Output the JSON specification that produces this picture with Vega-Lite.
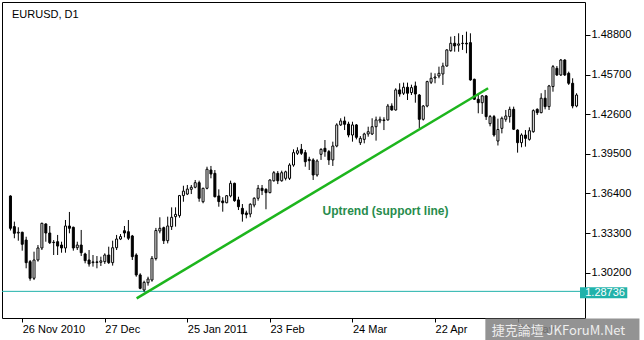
{
 "$schema": "https://vega.github.io/schema/vega-lite/v6.json",
 "width": 583,
 "height": 316,
 "autosize": {"type": "none"},
 "padding": {"left": 2, "top": 2, "right": 59, "bottom": 22},
 "background": "white",
 "config": {"view": {"stroke": "black", "strokeWidth": 1}, "font": "Liberation Sans"},
 "datasets": {"one": [{}]},
 "data": {"values": [
  {"i":0,"o":1.3620,"h":1.3625,"l":1.3350,"c":1.3367},
  {"i":1,"o":1.3380,"h":1.3419,"l":1.3289,"c":1.3328},
  {"i":2,"o":1.3330,"h":1.3375,"l":1.3270,"c":1.3336},
  {"i":3,"o":1.3336,"h":1.3340,"l":1.3192,"c":1.3242},
  {"i":4,"o":1.3275,"h":1.3301,"l":1.3054,"c":1.3098},
  {"i":5,"o":1.3106,"h":1.3119,"l":1.2957,"c":1.2976},
  {"i":6,"o":1.2976,"h":1.3184,"l":1.2962,"c":1.3119},
  {"i":7,"o":1.3119,"h":1.3236,"l":1.3106,"c":1.3213},
  {"i":8,"o":1.3213,"h":1.3411,"l":1.3197,"c":1.3406},
  {"i":9,"o":1.3401,"h":1.3406,"l":1.3262,"c":1.3330},
  {"i":10,"o":1.3330,"h":1.3385,"l":1.3244,"c":1.3254},
  {"i":11,"o":1.3258,"h":1.3275,"l":1.3158,"c":1.3255},
  {"i":12,"o":1.3262,"h":1.3315,"l":1.3158,"c":1.3228},
  {"i":13,"o":1.3236,"h":1.3262,"l":1.3176,"c":1.3213},
  {"i":14,"o":1.3213,"h":1.3432,"l":1.3176,"c":1.3385},
  {"i":15,"o":1.3385,"h":1.3495,"l":1.3328,"c":1.3367},
  {"i":16,"o":1.3375,"h":1.3380,"l":1.3192,"c":1.3213},
  {"i":17,"o":1.3215,"h":1.3262,"l":1.3197,"c":1.3236},
  {"i":18,"o":1.3236,"h":1.3354,"l":1.3150,"c":1.3176},
  {"i":19,"o":1.3166,"h":1.3176,"l":1.3093,"c":1.3114},
  {"i":20,"o":1.3119,"h":1.3197,"l":1.3067,"c":1.3088},
  {"i":21,"o":1.3098,"h":1.3158,"l":1.3067,"c":1.3104},
  {"i":22,"o":1.3104,"h":1.3150,"l":1.3054,"c":1.3100},
  {"i":23,"o":1.3101,"h":1.3145,"l":1.3072,"c":1.3112},
  {"i":24,"o":1.3106,"h":1.3171,"l":1.3088,"c":1.3158},
  {"i":25,"o":1.3158,"h":1.3223,"l":1.3088,"c":1.3098},
  {"i":26,"o":1.3098,"h":1.3270,"l":1.3075,"c":1.3215},
  {"i":27,"o":1.3215,"h":1.3315,"l":1.3197,"c":1.3283},
  {"i":28,"o":1.3283,"h":1.3322,"l":1.3275,"c":1.3302},
  {"i":29,"o":1.3348,"h":1.3385,"l":1.3296,"c":1.3330},
  {"i":30,"o":1.3340,"h":1.3432,"l":1.3275,"c":1.3289},
  {"i":31,"o":1.3307,"h":1.3315,"l":1.3119,"c":1.3145},
  {"i":32,"o":1.3158,"h":1.3171,"l":1.2988,"c":1.3002},
  {"i":33,"o":1.3002,"h":1.3015,"l":1.2890,"c":1.2897},
  {"i":34,"o":1.2884,"h":1.2957,"l":1.2871,"c":1.2944},
  {"i":35,"o":1.2941,"h":1.2988,"l":1.2918,"c":1.2970},
  {"i":36,"o":1.2962,"h":1.3150,"l":1.2949,"c":1.3132},
  {"i":37,"o":1.3130,"h":1.3370,"l":1.3115,"c":1.3350},
  {"i":38,"o":1.3346,"h":1.3453,"l":1.3328,"c":1.3367},
  {"i":39,"o":1.3372,"h":1.3380,"l":1.3244,"c":1.3270},
  {"i":40,"o":1.3270,"h":1.3458,"l":1.3249,"c":1.3385},
  {"i":41,"o":1.3380,"h":1.3531,"l":1.3354,"c":1.3453},
  {"i":42,"o":1.3458,"h":1.3531,"l":1.3380,"c":1.3476},
  {"i":43,"o":1.3466,"h":1.3628,"l":1.3450,"c":1.3623},
  {"i":44,"o":1.3623,"h":1.3700,"l":1.3575,"c":1.3658},
  {"i":45,"o":1.3635,"h":1.3706,"l":1.3627,"c":1.3674},
  {"i":46,"o":1.3672,"h":1.3706,"l":1.3635,"c":1.3688},
  {"i":47,"o":1.3688,"h":1.3745,"l":1.3680,"c":1.3724},
  {"i":48,"o":1.3724,"h":1.3740,"l":1.3575,"c":1.3602},
  {"i":49,"o":1.3575,"h":1.3685,"l":1.3563,"c":1.3680},
  {"i":50,"o":1.3680,"h":1.3849,"l":1.3672,"c":1.3829},
  {"i":51,"o":1.3823,"h":1.3855,"l":1.3758,"c":1.3792},
  {"i":52,"o":1.3797,"h":1.3823,"l":1.3609,"c":1.3614},
  {"i":53,"o":1.3620,"h":1.3672,"l":1.3536,"c":1.3576},
  {"i":54,"o":1.3581,"h":1.3610,"l":1.3497,"c":1.3567},
  {"i":55,"o":1.3567,"h":1.3627,"l":1.3563,"c":1.3622},
  {"i":56,"o":1.3620,"h":1.3740,"l":1.3609,"c":1.3719},
  {"i":57,"o":1.3719,"h":1.3724,"l":1.3575,"c":1.3583},
  {"i":58,"o":1.3589,"h":1.3614,"l":1.3510,"c":1.3536},
  {"i":59,"o":1.3523,"h":1.3557,"l":1.3419,"c":1.3479},
  {"i":60,"o":1.3487,"h":1.3505,"l":1.3445,"c":1.3474},
  {"i":61,"o":1.3479,"h":1.3563,"l":1.3453,"c":1.3555},
  {"i":62,"o":1.3549,"h":1.3610,"l":1.3531,"c":1.3602},
  {"i":63,"o":1.3602,"h":1.3706,"l":1.3583,"c":1.3680},
  {"i":64,"o":1.3680,"h":1.3706,"l":1.3627,"c":1.3662},
  {"i":65,"o":1.3672,"h":1.3680,"l":1.3516,"c":1.3646},
  {"i":66,"o":1.3646,"h":1.3750,"l":1.3641,"c":1.3745},
  {"i":67,"o":1.3739,"h":1.3815,"l":1.3732,"c":1.3802},
  {"i":68,"o":1.3797,"h":1.3815,"l":1.3713,"c":1.3739},
  {"i":69,"o":1.3739,"h":1.3818,"l":1.3732,"c":1.3802},
  {"i":70,"o":1.3758,"h":1.3818,"l":1.3742,"c":1.3809},
  {"i":71,"o":1.3758,"h":1.3876,"l":1.3745,"c":1.3862},
  {"i":72,"o":1.3862,"h":1.3985,"l":1.3849,"c":1.3959},
  {"i":73,"o":1.3954,"h":1.4001,"l":1.3941,"c":1.3974},
  {"i":74,"o":1.3985,"h":1.4027,"l":1.3941,"c":1.3954},
  {"i":75,"o":1.3959,"h":1.3980,"l":1.3849,"c":1.3888},
  {"i":76,"o":1.3907,"h":1.3927,"l":1.3823,"c":1.3896},
  {"i":77,"o":1.3902,"h":1.3915,"l":1.3745,"c":1.3784},
  {"i":78,"o":1.3784,"h":1.3907,"l":1.3771,"c":1.3894},
  {"i":79,"o":1.3946,"h":1.3993,"l":1.3902,"c":1.3985},
  {"i":80,"o":1.3993,"h":1.4058,"l":1.3927,"c":1.3967},
  {"i":81,"o":1.3967,"h":1.3980,"l":1.3863,"c":1.3902},
  {"i":82,"o":1.3902,"h":1.4045,"l":1.3855,"c":1.4011},
  {"i":83,"o":1.4011,"h":1.4189,"l":1.4001,"c":1.4176},
  {"i":84,"o":1.4176,"h":1.4228,"l":1.4168,"c":1.4207},
  {"i":85,"o":1.4207,"h":1.4241,"l":1.4136,"c":1.4181},
  {"i":86,"o":1.4183,"h":1.4201,"l":1.4079,"c":1.4097},
  {"i":87,"o":1.4097,"h":1.4201,"l":1.4045,"c":1.4176},
  {"i":88,"o":1.4176,"h":1.4183,"l":1.4063,"c":1.4079},
  {"i":89,"o":1.4037,"h":1.4089,"l":1.4019,"c":1.4071},
  {"i":90,"o":1.4063,"h":1.4115,"l":1.4032,"c":1.4105},
  {"i":91,"o":1.4105,"h":1.4162,"l":1.4084,"c":1.4123},
  {"i":92,"o":1.4105,"h":1.4228,"l":1.4097,"c":1.4162},
  {"i":93,"o":1.4162,"h":1.4241,"l":1.4053,"c":1.4215},
  {"i":94,"o":1.4207,"h":1.4241,"l":1.4189,"c":1.4220},
  {"i":95,"o":1.4215,"h":1.4236,"l":1.4136,"c":1.4210},
  {"i":96,"o":1.4215,"h":1.4340,"l":1.4210,"c":1.4324},
  {"i":97,"o":1.4324,"h":1.4345,"l":1.4288,"c":1.4293},
  {"i":98,"o":1.4293,"h":1.4463,"l":1.4288,"c":1.4450},
  {"i":99,"o":1.4450,"h":1.4502,"l":1.4397,"c":1.4418},
  {"i":100,"o":1.4424,"h":1.4507,"l":1.4410,"c":1.4471},
  {"i":101,"o":1.4471,"h":1.4507,"l":1.4371,"c":1.4424},
  {"i":102,"o":1.4429,"h":1.4491,"l":1.4410,"c":1.4468},
  {"i":103,"o":1.4481,"h":1.4515,"l":1.4350,"c":1.4418},
  {"i":104,"o":1.4410,"h":1.4418,"l":1.4150,"c":1.4220},
  {"i":105,"o":1.4220,"h":1.4332,"l":1.4210,"c":1.4324},
  {"i":106,"o":1.4324,"h":1.4522,"l":1.4314,"c":1.4515},
  {"i":107,"o":1.4510,"h":1.4585,"l":1.4496,"c":1.4541},
  {"i":108,"o":1.4543,"h":1.4580,"l":1.4502,"c":1.4551},
  {"i":109,"o":1.4559,"h":1.4632,"l":1.4541,"c":1.4580},
  {"i":110,"o":1.4575,"h":1.4663,"l":1.4489,"c":1.4637},
  {"i":111,"o":1.4637,"h":1.4768,"l":1.4632,"c":1.4763},
  {"i":112,"o":1.4757,"h":1.4867,"l":1.4749,"c":1.4815},
  {"i":113,"o":1.4815,"h":1.4872,"l":1.4749,"c":1.4794},
  {"i":114,"o":1.4800,"h":1.4893,"l":1.4749,"c":1.4810},
  {"i":115,"o":1.4813,"h":1.4880,"l":1.4763,"c":1.4815},
  {"i":116,"o":1.4815,"h":1.4906,"l":1.4737,"c":1.4810},
  {"i":117,"o":1.4820,"h":1.4893,"l":1.4522,"c":1.4528},
  {"i":118,"o":1.4533,"h":1.4538,"l":1.4371,"c":1.4377},
  {"i":119,"o":1.4377,"h":1.4418,"l":1.4267,"c":1.4350},
  {"i":120,"o":1.4350,"h":1.4410,"l":1.4262,"c":1.4403},
  {"i":121,"o":1.4403,"h":1.4410,"l":1.4215,"c":1.4241},
  {"i":122,"o":1.4186,"h":1.4254,"l":1.4165,"c":1.4241},
  {"i":123,"o":1.4241,"h":1.4254,"l":1.4084,"c":1.4097},
  {"i":124,"o":1.4050,"h":1.4225,"l":1.4015,"c":1.4140},
  {"i":125,"o":1.4149,"h":1.4241,"l":1.4110,"c":1.4228},
  {"i":126,"o":1.4220,"h":1.4293,"l":1.4201,"c":1.4246},
  {"i":127,"o":1.4241,"h":1.4319,"l":1.4194,"c":1.4298},
  {"i":128,"o":1.4298,"h":1.4319,"l":1.4136,"c":1.4142},
  {"i":129,"o":1.4136,"h":1.4142,"l":1.3959,"c":1.4037},
  {"i":130,"o":1.4037,"h":1.4110,"l":1.4001,"c":1.4097},
  {"i":131,"o":1.4097,"h":1.4136,"l":1.4006,"c":1.4071},
  {"i":132,"o":1.4063,"h":1.4157,"l":1.4053,"c":1.4131},
  {"i":133,"o":1.4123,"h":1.4298,"l":1.4115,"c":1.4288},
  {"i":134,"o":1.4298,"h":1.4306,"l":1.4254,"c":1.4272},
  {"i":135,"o":1.4272,"h":1.4424,"l":1.4267,"c":1.4385},
  {"i":136,"o":1.4385,"h":1.4450,"l":1.4298,"c":1.4319},
  {"i":137,"o":1.4319,"h":1.4489,"l":1.4293,"c":1.4481},
  {"i":138,"o":1.4476,"h":1.4645,"l":1.4436,"c":1.4632},
  {"i":139,"o":1.4619,"h":1.4637,"l":1.4559,"c":1.4567},
  {"i":140,"o":1.4567,"h":1.4692,"l":1.4559,"c":1.4684},
  {"i":141,"o":1.4684,"h":1.4690,"l":1.4559,"c":1.4567},
  {"i":142,"o":1.4580,"h":1.4593,"l":1.4489,"c":1.4502},
  {"i":143,"o":1.4502,"h":1.4541,"l":1.4306,"c":1.4324},
  {"i":144,"o":1.4324,"h":1.4424,"l":1.4314,"c":1.4410}
 ]},
 "layer": [
  {
   "data": {"name": "one"},
   "mark": {"type": "rule", "color": "#20b2aa", "strokeWidth": 1},
   "encoding": {"y": {"datum": 1.28736, "type": "quantitative"}}
  },
  {
   "mark": {"type": "rule", "color": "black", "strokeWidth": 1},
   "encoding": {
    "x": {"field": "i", "type": "quantitative",
     "scale": {"domain": [-0.875, 144.875], "nice": false, "zero": false},
     "axis": {"title": null, "values": [3, 24, 45, 66, 87, 108, 129],
      "labelExpr": "['26 Nov 2010','27 Dec','25 Jan 2011','23 Feb','24 Mar','22 Apr','23 May'][round((datum.value-3)/21)]",
      "labelAlign": "left", "labelBaseline": "top", "labelPadding": 1, "tickSize": 4, "tickColor": "black",
      "domain": false, "grid": false, "labelFont": "Liberation Sans", "labelFontSize": 11, "labelColor": "black", "labelOverlap": false, "labelFlush": false}},
    "y": {"field": "l", "type": "quantitative",
     "scale": {"domain": [1.2665, 1.5138], "nice": false, "zero": false},
     "axis": {"title": null, "orient": "right", "values": [1.302, 1.333, 1.364, 1.395, 1.426, 1.457, 1.488],
      "format": ".5f", "tickSize": 5, "tickColor": "black", "labelPadding": 1, "domain": false, "grid": false,
      "labelFont": "Liberation Sans", "labelFontSize": 11, "labelColor": "black", "labelOverlap": false, "labelFlush": false}},
    "y2": {"field": "h"}
   }
  },
  {
   "mark": {"type": "bar", "size": 2, "stroke": "black", "strokeWidth": 1},
   "encoding": {
    "x": {"field": "i", "type": "quantitative"},
    "y": {"field": "o", "type": "quantitative"},
    "y2": {"field": "c"},
    "fill": {"condition": {"test": "datum.c >= datum.o", "value": "white"}, "value": "black"}
   }
  },
  {
   "data": {"name": "one"},
   "mark": {"type": "rule", "color": "#1db51d", "strokeWidth": 2.5},
   "encoding": {
    "x": {"datum": 32.1, "type": "quantitative"},
    "y": {"datum": 1.2819, "type": "quantitative"},
    "x2": {"datum": 121.5},
    "y2": {"datum": 1.4463}
   }
  },
  {
   "data": {"name": "one"},
   "mark": {"type": "text", "text": "Uptrend (support line)", "font": "Liberation Sans", "fontWeight": "bold", "fontSize": 12, "fill": "#278c4c", "align": "center", "baseline": "middle"},
   "encoding": {
    "x": {"datum": 95.4, "type": "quantitative"},
    "y": {"datum": 1.3505, "type": "quantitative"}
   }
  },
  {
   "data": {"name": "one"},
   "mark": {"type": "text", "text": "EURUSD, D1", "font": "Liberation Sans", "fontWeight": "normal", "fontSize": 11, "fill": "black", "align": "left", "baseline": "middle"},
   "encoding": {
    "x": {"datum": 0.4, "type": "quantitative"},
    "y": {"datum": 1.5039, "type": "quantitative"}
   }
  },
  {
   "data": {"name": "one"},
   "mark": {"type": "rect", "fill": "#20b2aa"},
   "encoding": {
    "x": {"datum": 144.875, "type": "quantitative"},
    "x2": {"datum": 156.9},
    "y": {"datum": 1.29053, "type": "quantitative"},
    "y2": {"datum": 1.28191}
   }
  },
  {
   "data": {"name": "one"},
   "mark": {"type": "text", "text": "1.28736", "font": "Liberation Sans", "fontWeight": "normal", "fontSize": 11, "fill": "white", "align": "left", "baseline": "middle"},
   "encoding": {
    "x": {"datum": 146.2, "type": "quantitative"},
    "y": {"datum": 1.2864, "type": "quantitative"}
   }
  },
  {
   "data": {"name": "one"},
   "mark": {"type": "rect", "fill": "#808080", "opacity": 0.85},
   "encoding": {
    "x": {"datum": 120.8, "type": "quantitative"},
    "x2": {"datum": 160},
    "y": {"datum": 1.2661, "type": "quantitative"},
    "y2": {"datum": 1.2493}
   }
  },
  {
   "data": {"name": "one"},
   "mark": {"type": "text", "text": "捷克論壇 JKForuM.Net", "font": "Noto Sans CJK TC", "fontSize": 13, "fill": "#eeeeee", "align": "center", "baseline": "middle"},
   "encoding": {
    "x": {"datum": 139.4, "type": "quantitative"},
    "y": {"datum": 1.2565, "type": "quantitative"}
   }
  }
 ]
}
